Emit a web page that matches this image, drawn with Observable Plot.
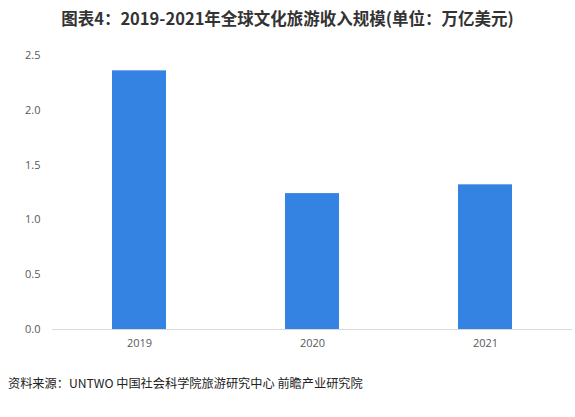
<!DOCTYPE html>
<html>
<head>
<meta charset="utf-8">
<script src="https://cdn.jsdelivr.net/npm/d3@7"></script>
<script src="https://cdn.jsdelivr.net/npm/@observablehq/plot@0.6"></script>
<style>
  html, body { margin: 0; padding: 0; background: #fff; width: 575px; height: 417px; overflow: hidden; }
  #title { position: absolute; left: 0; top: 0; width: 575px; height: 36px; line-height: 36px; text-align: center;
    font-family: "Noto Sans CJK SC", sans-serif; font-weight: bold; font-size: 16.5px; color: #333; }
  #chart { position: absolute; left: 0; top: 36px; }
  #caption { position: absolute; left: 8px; top: 374px; font-family: "Noto Sans CJK SC", sans-serif; font-size: 12.2px; color: #222; }
</style>
</head>
<body>
<div id="title">图表4：2019-2021年全球文化旅游收入规模(单位：万亿美元)</div>
<div id="chart"></div>
<div id="caption">资料来源：UNTWO 中国社会科学院旅游研究中心 前瞻产业研究院</div>
<script>
const years = ["2019", "2020", "2021"];
const revenue = [2.36, 1.24, 1.32];
const yTicks = [0, 0.5, 1.0, 1.5, 2.0, 2.5];

const data = years.map((y, i) => ({year: y, value: revenue[i]}));

const chart = Plot.plot({
  width: 575,
  height: 320,
  marginTop: 19,
  marginBottom: 27,
  marginLeft: 52,
  marginRight: 3,
  style: {fontFamily: "'Open Sans', 'Noto Sans', sans-serif", fontSize: "11px", color: "#595959", background: "#fff"},
  x: {domain: years, paddingInner: 0.69, paddingOuter: 0.345, label: null, tickSize: 0, tickPadding: 10},
  y: {domain: [0, 2.5], ticks: yTicks, tickFormat: d3.format(".1f"), label: null, tickSize: 0, tickPadding: 12},
  marks: [
    Plot.barY(data, {x: "year", y: "value", fill: "#3482e2"}),
    Plot.ruleY([0], {stroke: "#d9d9d9", strokeWidth: 1})
  ]
});
document.getElementById("chart").appendChild(chart);
</script>
</body>
</html>
